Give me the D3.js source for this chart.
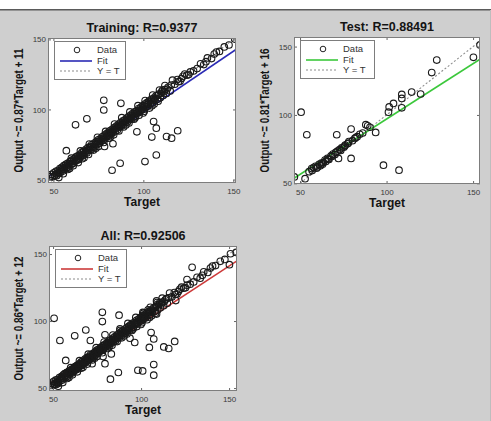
<!DOCTYPE html>
<html>
<head>
<meta charset="utf-8">
<script src="https://cdn.jsdelivr.net/npm/d3@7"></script>
<style>
  html, body { margin: 0; padding: 0; background: #cfcfcf; }
  svg { display: block; }
  text { font-family: "Liberation Sans", Arial, sans-serif; }
</style>
</head>
<body>
<svg id="fig" width="491" height="421"></svg>
<script>
// ---- Regression data (targets vs. network outputs) ----
const trainTarget = [
  48.3,49.0,49.6,50.2,50.9,51.4,51.8,52.5,53.1,53.6,54.0,54.7,55.3,55.8,56.1,56.9,57.4,57.9,58.5,59.2,
  59.8,60.3,60.7,61.4,62.0,62.5,63.0,63.6,64.1,64.8,65.2,65.9,66.4,66.8,67.5,68.1,68.6,69.2,69.7,70.4,
  70.9,71.3,72.0,72.6,73.1,73.8,74.2,74.9,75.4,76.0,76.5,77.1,77.6,78.3,78.7,79.4,79.9,80.5,81.0,81.6,
  82.1,82.8,83.2,83.9,84.4,85.0,85.5,86.1,86.7,87.2,87.8,88.4,88.9,89.5,90.0,90.7,91.2,91.8,92.3,92.9,
  93.5,94.0,94.6,95.1,95.7,96.3,96.9,97.4,98.0,98.6,99.1,99.7,100.3,100.8,101.4,102.0,102.5,103.1,103.8,104.4,
  105.0,105.7,106.3,107.0,107.8,108.5,109.4,110.2,111.0,111.9,112.8,113.7,114.9,116.2,117.5,118.9,120.4,122.0,124.2,126.1,
  127.9,129.9,131.8,133.6,135.6,137.9,139.4,142.3,145.0,147.6,150.8,
  55.5,58.0,61.0,63.8,66.0,69.5,72.3,75.0,78.0,80.8,83.5,86.4,89.0,92.0,94.8,97.6,100.5,103.4,106.0,
  60.0,65.0,70.0,74.5,79.0,84.0,88.0,92.5,97.0,101.0,105.2,109.0,110.6,112.0,
  50.5,51.7,52.9,54.3,55.1,56.5,57.6,58.8,59.5,60.9,62.1,63.3,64.6,65.6,66.9,67.8,69.0,70.1,71.0,72.2,
  73.4,74.6,75.8,76.9,77.8,79.1,80.1,81.3,82.4,83.6,84.8,85.9,86.9,88.1,89.3,90.4,91.6,92.7,93.8,95.0,
  96.1,97.1,98.3,99.4,100.6,101.7,102.8,104.1,105.4,106.6,108.0,109.8,111.5,113.2,115.5,119.5,121.2,123.0,125.2,134.8,
  140.6,53.0,59.0,67.0,73.6,81.8,90.3,95.4,99.9,104.8,108.2,
  78.0,78.0,87.5,68.6,62.3,57.2,83.1,78.4,87.1,82.6,100.9,107.2,105.7,107.2,96.4,104.7,112.9,115.7,119.1
];
const trainOutput = [
  52.0,53.6,51.9,54.8,53.0,55.9,52.7,56.4,54.3,57.8,55.2,58.6,56.1,59.9,57.4,60.8,58.3,61.5,59.0,62.7,
  60.9,63.8,61.2,64.5,62.8,66.1,63.7,66.9,64.2,68.0,66.4,69.3,66.9,70.2,68.5,71.6,69.0,72.8,70.7,73.5,
  71.3,74.9,72.6,75.8,73.4,77.0,74.9,78.3,75.8,79.1,77.2,80.4,78.0,81.6,79.1,82.5,80.8,83.7,81.2,84.9,
  82.6,86.0,83.5,87.1,84.6,88.2,85.1,89.4,87.3,90.5,88.0,91.7,89.2,92.4,90.6,93.8,91.0,94.9,92.7,96.0,
  93.2,97.1,94.8,98.3,95.2,99.0,97.4,100.6,98.1,101.5,99.6,102.8,100.2,103.9,101.7,104.8,102.3,106.0,103.9,107.2,
  104.6,108.1,106.5,109.7,107.2,111.0,108.3,112.6,109.9,114.1,111.4,115.8,113.2,120.9,118.0,121.3,120.1,123.7,124.5,126.8,
  127.5,129.2,132.6,132.0,136.8,136.3,139.5,141.4,144.6,146.0,150.2,
  54.1,57.2,59.9,62.1,64.8,67.9,71.0,73.6,76.4,79.5,81.9,84.7,87.5,90.4,93.0,95.9,98.8,101.0,103.9,
  65.2,70.4,75.3,80.1,84.3,89.6,94.1,98.2,102.7,106.4,110.3,113.8,113.8,117.1,
  52.6,54.1,55.0,56.9,57.5,58.9,59.8,61.4,63.0,62.7,65.3,64.9,66.6,67.4,68.2,69.9,70.9,72.3,73.0,73.9,
  75.4,76.6,77.5,78.7,79.6,80.1,82.0,83.3,84.1,85.4,86.3,87.9,88.8,89.6,90.9,92.2,93.1,94.1,95.6,96.7,
  97.6,98.9,99.8,101.1,102.4,103.3,104.2,105.8,106.9,108.0,110.2,111.3,112.7,114.6,117.4,119.8,122.1,125.3,124.9,134.1,
  141.0,51.4,57.9,65.6,72.3,80.6,88.9,94.0,97.5,102.7,105.9,
  106.5,99.6,104.4,93.3,89.0,70.6,75.5,73.6,61.6,56.6,62.8,67.5,91.4,86.6,84.0,80.3,80.7,79.5,84.8
];

const testTarget = [
  46.7,52.9,50.6,53.9,56.7,57.8,58.9,60.2,61.0,62.3,63.5,64.4,65.8,66.7,67.9,69.0,70.2,71.2,71.6,72.2,
  72.8,74.0,75.3,76.1,77.4,78.2,79.5,79.5,80.3,81.6,83.0,84.5,86.2,88.0,89.1,90.4,93.7,98.2,101.1,101.5,
  104.0,107.2,108.8,108.8,108.8,114.5,119.7,126.1,129.0,150.2,154.0,
  55.2,57.0,59.5,61.7,63.0,64.9,66.3,68.4,70.6,73.5,75.8,77.9,82.2
];
const testOutput = [
  54.7,53.4,102.0,85.5,60.8,61.5,62.4,62.0,63.9,64.8,65.2,67.0,68.3,67.5,70.1,71.4,71.0,85.5,73.5,68.2,
  74.6,75.9,76.4,78.0,78.9,80.5,68.2,89.7,81.2,82.8,84.1,85.9,86.8,92.9,92.1,91.0,87.2,63.3,102.0,105.9,
  108.4,59.6,105.2,115.0,112.1,116.7,115.3,131.0,140.1,142.1,151.2,
  58.5,59.3,61.0,62.9,64.0,66.0,67.7,69.6,72.6,74.0,77.2,79.4,83.5
];

// "All" combines every sample
const allTarget = trainTarget.concat(testTarget);
const allOutput = trainOutput.concat(testOutput);

const tickValues = [50, 100, 150];
const legendLabels = ["Data", "Fit", "Y = T"];

// ---- Panel layout ----
const panels = [
  { title: "Training: R=0.9377", slope: 0.87, intercept: 11, color: "#2a2ab4",
    t: trainTarget, y: trainOutput, xDom: [47, 151.5], yDom: [47.5, 151],
    x0: 48, x1: 236, y0: 38, y1: 183, labelX: 18, legW: 71 },
  { title: "Test: R=0.88491", slope: 0.81, intercept: 16, color: "#3cc83c",
    t: testTarget, y: testOutput, xDom: [46.5, 154], yDom: [49.5, 157],
    x0: 294, x1: 480, y0: 37, y1: 184, labelX: 264, legW: 74 },
  { title: "All: R=0.92506", slope: 0.86, intercept: 12, color: "#cc3a3a",
    t: allTarget, y: allOutput, xDom: [47.7, 154.5], yDom: [47.8, 156],
    x0: 49, x1: 237, y0: 246, y1: 391, labelX: 18, legW: 71 }
];

const svg = d3.select("#fig");

// window frame: white strip and dark rule at the top
svg.append("rect").attr("x", 0).attr("y", 0).attr("width", 491).attr("height", 9).attr("fill", "#ffffff");
svg.append("line").attr("x1", 0).attr("x2", 491).attr("y1", 9.8).attr("y2", 9.8)
  .attr("stroke", "#5a5a5a").attr("stroke-width", 1.6);
svg.append("line").attr("x1", 490.5).attr("x2", 490.5).attr("y1", 10).attr("y2", 421)
  .attr("stroke", "#bdbdbd").attr("stroke-width", 1);

panels.forEach((p, i) => {
  const x = d3.scaleLinear().domain(p.xDom).range([p.x0, p.x1]);
  const y = d3.scaleLinear().domain(p.yDom).range([p.y1, p.y0]);
  const g = svg.append("g");
  const clipId = "clip" + i;

  g.append("clipPath").attr("id", clipId).append("rect")
    .attr("x", p.x0).attr("y", p.y0).attr("width", p.x1 - p.x0).attr("height", p.y1 - p.y0);

  g.append("rect")
    .attr("x", p.x0).attr("y", p.y0).attr("width", p.x1 - p.x0).attr("height", p.y1 - p.y0)
    .attr("fill", "#ffffff");

  const plot = g.append("g").attr("clip-path", `url(#${clipId})`);
  const lo = p.xDom[0], hi = p.xDom[1];

  // Y = T reference
  plot.append("line")
    .attr("x1", x(lo)).attr("y1", y(lo)).attr("x2", x(hi)).attr("y2", y(hi))
    .attr("stroke", "#8c8c8c").attr("stroke-width", 1.1).attr("stroke-dasharray", "2,2");

  // least-squares fit
  plot.append("line")
    .attr("x1", x(lo)).attr("y1", y(p.slope * lo + p.intercept))
    .attr("x2", x(hi)).attr("y2", y(p.slope * hi + p.intercept))
    .attr("stroke", p.color).attr("stroke-width", 1.6);

  // samples
  plot.selectAll("circle.pt").data(p.t.map((d, k) => [d, p.y[k]])).join("circle")
    .attr("class", "pt")
    .attr("cx", d => x(d[0])).attr("cy", d => y(d[1])).attr("r", 3.3)
    .attr("fill", "none").attr("stroke", "#1a1a1a").attr("stroke-width", 1.1);

  // axes with inward ticks
  const styleAxis = sel => {
    sel.select(".domain").remove();
    sel.selectAll(".tick line").attr("stroke", "#666");
    sel.selectAll(".tick text").attr("fill", "#3a3a3a")
      .style("font-family", "'Liberation Sans', Arial, sans-serif").style("font-size", "8px");
  };
  g.append("g").attr("transform", `translate(0,${p.y1})`)
    .call(d3.axisBottom(x).tickValues(tickValues).tickSizeInner(-3).tickSizeOuter(0).tickPadding(5))
    .call(styleAxis);
  g.append("g").attr("transform", `translate(${p.x0},0)`)
    .call(d3.axisLeft(y).tickValues(tickValues).tickSizeInner(-3).tickSizeOuter(0).tickPadding(2))
    .call(styleAxis);
  g.append("g").attr("transform", `translate(0,${p.y0})`)
    .call(d3.axisTop(x).tickValues(tickValues).tickSizeInner(-3).tickSizeOuter(0).tickFormat(""))
    .call(styleAxis);
  g.append("g").attr("transform", `translate(${p.x1},0)`)
    .call(d3.axisRight(y).tickValues(tickValues).tickSizeInner(-3).tickSizeOuter(0).tickFormat(""))
    .call(styleAxis);

  g.append("rect")
    .attr("x", p.x0 + 0.5).attr("y", p.y0 + 0.5)
    .attr("width", p.x1 - p.x0 - 1).attr("height", p.y1 - p.y0 - 1)
    .attr("fill", "none").attr("stroke", "#7d7d7d").attr("stroke-width", 1);

  const cx = (p.x0 + p.x1) / 2;
  const cy = (p.y0 + p.y1) / 2;

  // title
  g.append("text").attr("x", cx).attr("y", p.y0 - 6.5)
    .attr("text-anchor", "middle").attr("font-weight", "bold").attr("font-size", 12.5)
    .attr("fill", "#141414").text(p.title);

  // x label
  g.append("text").attr("x", cx).attr("y", p.y1 + 23)
    .attr("text-anchor", "middle").attr("font-weight", "bold").attr("font-size", 12)
    .attr("fill", "#141414").text("Target");

  // y label
  g.append("text")
    .attr("transform", `translate(${p.labelX},${cy}) rotate(-90)`)
    .attr("dy", "0.35em")
    .attr("text-anchor", "middle").attr("font-weight", "bold").attr("font-size", 13)
    .attr("textLength", 124).attr("lengthAdjust", "spacingAndGlyphs")
    .attr("fill", "#141414")
    .text(`Output ~= ${p.slope.toFixed(2)}*Target + ${p.intercept}`);

  // legend
  const lx = p.x0 + 6, ly = p.y0 + 3;
  const leg = g.append("g");
  leg.append("rect").attr("x", lx + 0.5).attr("y", ly + 0.5).attr("width", p.legW).attr("height", 38)
    .attr("fill", "#ffffff").attr("stroke", "#7d7d7d").attr("stroke-width", 1);
  const rows = [ly + 9, ly + 20, ly + 30];
  leg.append("circle").attr("cx", lx + 23).attr("cy", rows[0]).attr("r", 2.8)
    .attr("fill", "none").attr("stroke", "#222").attr("stroke-width", 1);
  leg.append("line").attr("x1", lx + 6).attr("x2", lx + 38).attr("y1", rows[1]).attr("y2", rows[1])
    .attr("stroke", p.color).attr("stroke-width", 1.6);
  leg.append("line").attr("x1", lx + 6).attr("x2", lx + 38).attr("y1", rows[2]).attr("y2", rows[2])
    .attr("stroke", "#8c8c8c").attr("stroke-width", 1.1).attr("stroke-dasharray", "2,2");
  legendLabels.forEach((lab, k) => {
    leg.append("text").attr("x", lx + 43).attr("y", rows[k]).attr("dy", "0.35em")
      .attr("font-size", 9.5).attr("fill", "#333").text(lab);
  });
});
</script>
</body>
</html>
